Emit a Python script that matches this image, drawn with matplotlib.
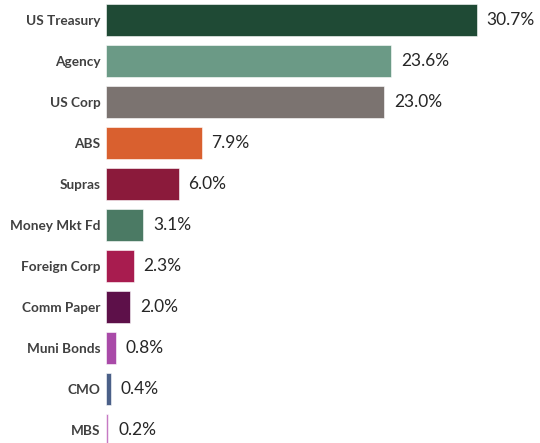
import matplotlib
matplotlib.use("Agg")
import matplotlib.pyplot as plt

categories = ["US Treasury", "Agency", "US Corp", "ABS", "Supras", "Money Mkt Fd",
              "Foreign Corp", "Comm Paper", "Muni Bonds", "CMO", "MBS"]
weights = [30.7, 23.6, 23.0, 7.9, 6.0, 3.1, 2.3, 2.0, 0.8, 0.4, 0.2]
colors = ["#1f4a35", "#6b9a86", "#7b7370", "#d9602f", "#8b1a3b", "#4b7a64",
          "#a81c4f", "#5d1049", "#a94aa8", "#4b6088", "#c67ac4"]

plt.rcParams["font.family"] = ["Lato", "DejaVu Sans"]

fig = plt.figure(figsize=(5.4, 4.43), dpi=100)
ax = fig.add_axes([106 / 540, 0, 434 / 540, 1])

pos = list(range(len(categories)))
ax.barh(pos, weights, height=0.78, color=colors, edgecolor="white", linewidth=0.4)

for y, w in zip(pos, weights):
    ax.text(w + 0.8, y, f"{w:.1f}%", va="center", ha="left",
            fontsize=12.5, color="#262626")

ax.set_xlim(0, 35.9)
ax.set_ylim(10.317, -0.488)
ax.set_yticks(pos)
ax.set_yticklabels(categories, fontsize=9.8, fontweight="bold", color="#404040")
ax.tick_params(axis="y", length=0, pad=4)
ax.set_xticks([])
for s in ax.spines.values():
    s.set_visible(False)

fig.savefig("out.png", dpi=100)
